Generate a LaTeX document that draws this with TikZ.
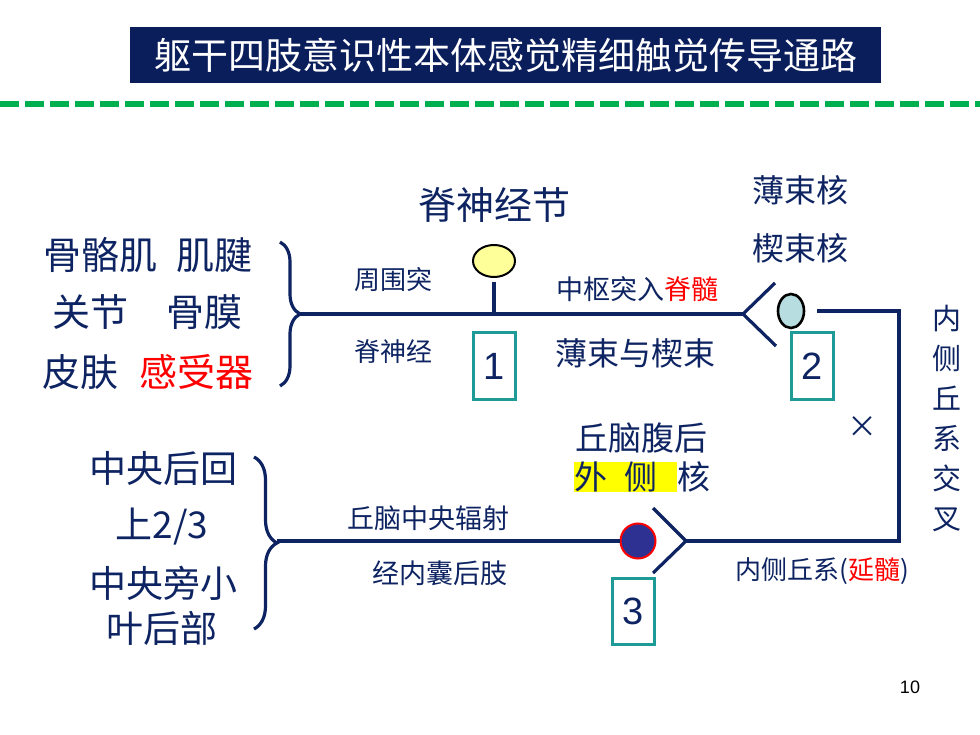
\documentclass[tikz,border=0pt]{standalone}
\usepackage{fontspec}
\setmainfont{Noto Sans CJK SC}
\newfontfamily\arial{Liberation Sans}
\usetikzlibrary{shapes.geometric,decorations.pathreplacing}
\definecolor{navy}{RGB}{14,36,98}
\definecolor{titlebg}{RGB}{10,30,92}
\definecolor{dashgreen}{RGB}{0,176,80}
\definecolor{boxteal}{RGB}{30,155,150}
\definecolor{gangyel}{RGB}{255,255,153}
\definecolor{nucblue}{RGB}{183,221,224}
\definecolor{cellblue}{RGB}{46,49,146}
\definecolor{hlyel}{RGB}{255,255,0}
\setlength{\fboxsep}{0pt}

\begin{document}
\begin{tikzpicture}[x=1pt,y=-1pt]
\tikzset{
    part/.style={line width=3.2pt, color=navy},
    brace part/.style={part, decorate, decoration={brace, amplitude=#1}},
    big txt/.style={text=navy, inner sep=0pt, font=\fontsize{38}{42}\selectfont},
    mid txt/.style={text=navy, inner sep=0pt, font=\fontsize{33}{36}\selectfont},
    small txt/.style={text=navy, inner sep=0pt, font=\fontsize{26}{30}\selectfont},
    num box/.style={draw=boxteal, line width=3pt, minimum width=42pt, minimum height=66pt,
        inner sep=0pt, text=navy, font=\arial\fontsize{38}{40}\selectfont}}

\useasboundingbox (0,0) rectangle (980,735);

\node[fill=titlebg, text=white, minimum width=751pt, minimum height=56pt, inner sep=0pt,
    font=\fontsize{37}{40}\selectfont] (title) at (505.5,55) {躯干四肢意识性本体感觉精细触觉传导通路};
\draw[dashgreen, line width=6pt, dash pattern=on 19pt off 6pt] (0,104)--(980,104);

\node[big txt] (recA) at (148,255) {骨骼肌\hspace{19pt}肌腱};
\node[big txt] (recB) at (147.5,312) {关节\hspace{38pt}骨膜};
\node[big txt] (recC) at (147.5,372) {皮肤\hspace{21pt}\textcolor{red}{感受器}};
\draw[brace part=20pt] (280,242)--(280,386);

\node[big txt] (gname) at (494,205) {脊神经节};
\node[small txt] (peri) at (393,280) {周围突};
\node[small txt] (spn) at (393,352) {脊神经};
\node[small txt, font=\fontsize{27}{30}\selectfont] (cent) at (637,289) {中枢突入\textcolor{red}{脊髓}};
\node[mid txt, font=\fontsize{32}{36}\selectfont] (tract) at (635,353) {薄束与楔束};
\node[mid txt, font=\fontsize{32}{36}\selectfont] (gnuc) at (800,190) {薄束核};
\node[mid txt, font=\fontsize{32}{36}\selectfont] (cnuc) at (800,248) {楔束核};

\path (300,314)coordinate(T1) (494,314)coordinate(J1) (743,314)coordinate(F1);
\node[draw=black, line width=2pt, fill=gangyel, ellipse, minimum width=42pt, minimum height=32pt,
    inner sep=0pt] (G1) at (494,261) {};
\draw[part] (T1)--(F1);
\draw[part, shorten <=4pt] (G1)--(J1);
\draw[part] (775,283)--(F1)--(776,346);

\node[draw=black, line width=2.6pt, fill=nucblue, ellipse, minimum width=26pt, minimum height=34pt,
    inner sep=0pt] (N2) at (791,311) {};
\path (817,311)coordinate(M2) (899,311)coordinate(R1) (899,541)coordinate(R2)
    (686,541)coordinate(F3) (277,541)coordinate(T3);
\draw[part] (M2)--(R1)--(R2)--(F3);
\draw[part] (653,508)--(F3)--(653,573);

\node[num box] (box1) at (494,366) {1};
\node[num box] (box2) at (812.5,366) {2};
\node[num box] (box3) at (633,611) {3};

\node[mid txt, font=\fontsize{30}{34}\selectfont] (cross) at (862,427) {×};
\node[mid txt, align=center, font=\fontsize{29}{40}\selectfont] (mlx) at (947,418) {内\\侧\\丘\\系\\交\\叉};

\node[mid txt] (vpl) at (641,438) {丘脑腹后};
\node[mid txt, anchor=west] (vplb) at (574,477) {\colorbox{hlyel}{外\hspace{17pt}侧\hspace{20pt}}核};

\node[circle, draw=red, line width=2pt, fill=cellblue, minimum size=35pt, inner sep=0pt] (N3) at (638,541) {};
\draw[part] (T3)--(N3);

\node[big txt, font=\fontsize{37}{40}\selectfont] (pcgA) at (163,468) {中央后回};
\node[big txt, font=\fontsize{37}{40}\selectfont] (pcgB) at (162,527) {上2/3};
\node[big txt, font=\fontsize{37}{40}\selectfont] (pcgC) at (163,583) {中央旁小};
\node[big txt, font=\fontsize{37}{40}\selectfont] (pcgD) at (162,628) {叶后部};
\draw[brace part=23pt] (254,457)--(254,629);

\node[small txt, font=\fontsize{27}{30}\selectfont] (rad) at (428,518) {丘脑中央辐射};
\node[small txt, font=\fontsize{27}{30}\selectfont] (caps) at (440,573) {经内囊后肢};
\node[small txt] (mlm) at (822,571) {内侧丘系(\textcolor{red}{延髓})};

\node[font=\arial\fontsize{18}{20}\selectfont] (pg) at (910,687) {10};

\end{tikzpicture}
\end{document}
